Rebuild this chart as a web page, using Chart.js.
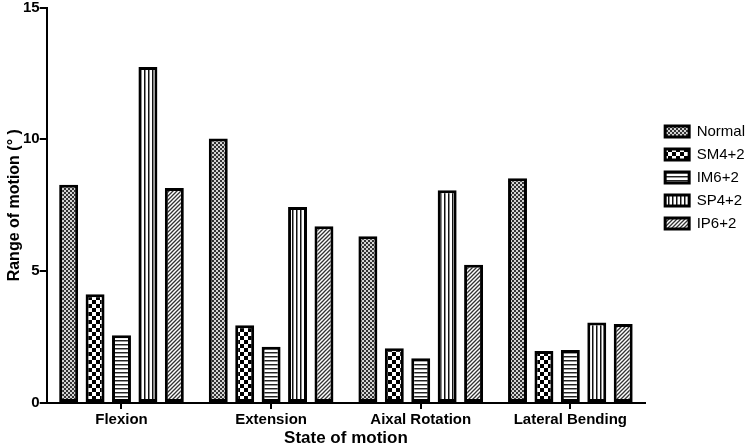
<!DOCTYPE html>
<html><head><meta charset="utf-8">
<script src="https://cdn.jsdelivr.net/npm/chart.js@4/dist/chart.umd.min.js"></script>
<style>html,body{margin:0;padding:0;background:#fff}#wrap{width:750px;height:447px}</style>
</head><body><div id="wrap"><canvas id="c" width="750" height="447"></canvas></div>
<script>
const categories = ['Flexion', 'Extension', 'Aixal Rotation', 'Lateral Bending'];
const seriesNames = ['Normal', 'SM4+2', 'IM6+2', 'SP4+2', 'IP6+2'];
const normal = [8.28, 10.03, 6.32, 8.52];
const sm42   = [4.12, 2.95, 2.08, 1.97];
const im62   = [2.57, 2.13, 1.70, 2.01];
const sp42   = [12.74, 7.43, 8.07, 3.05];
const ip62   = [8.15, 6.70, 5.24, 3.00];
const yTicks = [0, 5, 10, 15];
const seriesData = [normal, sm42, im62, sp42, ip62];

const FONT = "'Liberation Sans', Arial, sans-serif";
const canvas = document.getElementById('c');
const ctx = canvas.getContext('2d');

function tile(w, h, draw) {
  const c = document.createElement('canvas');
  c.width = w; c.height = h;
  const g = c.getContext('2d');
  g.fillStyle = '#fff'; g.fillRect(0, 0, w, h);
  draw(g);
  return ctx.createPattern(c, 'repeat');
}
const patterns = [
  tile(4, 4, g => { g.fillStyle = '#333'; g.fillRect(0,0,2,2); g.fillRect(2,2,2,2); g.fillStyle = '#d4d4d4'; g.fillRect(2,0,2,2); g.fillRect(0,2,2,2); }),
  tile(8, 8, g => { g.fillStyle = '#000'; g.fillRect(0,0,4,4); g.fillRect(4,4,4,4); }),
  tile(4, 4, g => { g.fillStyle = '#222'; g.fillRect(0,0,4,1); g.fillStyle = '#999'; g.fillRect(0,1,4,1); }),
  tile(4, 4, g => { g.fillStyle = '#111'; g.fillRect(0,0,1,4); g.fillStyle = '#888'; g.fillRect(1,0,1,4); }),
  tile(4, 4, g => { g.strokeStyle = '#333'; g.lineWidth = 1.3; g.beginPath(); g.moveTo(-1,5); g.lineTo(5,-1); g.moveTo(-1,1); g.lineTo(1,-1); g.moveTo(3,5); g.lineTo(5,3); g.stroke(); })
];

const legendShift = {
  id: 'legendShift',
  afterLayout(chart) {
    if (chart.legend) { chart.legend.left += 12; chart.legend.right += 12; }
  }
};

new Chart(ctx, {
  type: 'bar',
  data: {
    labels: categories,
    datasets: seriesNames.map((n, i) => ({
      label: n,
      data: seriesData[i],
      backgroundColor: patterns[i],
      borderColor: '#000',
      borderWidth: 3,
      borderSkipped: false,
      categoryPercentage: 0.883,
      barPercentage: 0.717
    }))
  },
  plugins: [legendShift],
  options: {
    responsive: false,
    animation: false,
    devicePixelRatio: 1,
    layout: { padding: { left: 0, right: 7, top: 0, bottom: 0 } },
    plugins: {
      tooltip: { enabled: false },
      legend: {
        position: 'right',
        align: 'start',
        title: { display: true, text: ' ', font: { size: 10 }, padding: { top: 104, bottom: 0 } },
        labels: {
          color: '#000',
          font: { family: FONT, size: 15 },
          boxWidth: 24,
          boxHeight: 11,
          padding: 8
        }
      }
    },
    scales: {
      x: {
        offset: true,
        grid: { display: true, drawOnChartArea: false, drawTicks: true, tickLength: 6, offset: false, color: '#000', lineWidth: 2 },
        border: { display: true, color: '#000', width: 2 },
        ticks: { color: '#000', font: { family: FONT, size: 15, weight: 'bold', lineHeight: 1 }, padding: 3, maxRotation: 0 },
        title: { display: true, text: 'State of motion', color: '#000', font: { family: FONT, size: 17, weight: 'bold', lineHeight: 1 }, padding: { top: 0, bottom: 0 } }
      },
      y: {
        min: 0, max: 15,
        afterBuildTicks: s => { s.ticks = yTicks.map(v => ({ value: v })); },
        grid: { display: true, drawOnChartArea: false, drawTicks: true, tickLength: 7, color: '#000', lineWidth: 2 },
        border: { display: true, color: '#000', width: 2 },
        ticks: { color: '#000', font: { family: FONT, size: 15, weight: 'bold', lineHeight: 1 }, padding: 0 },
        title: { display: true, text: 'Range of motion (° )', color: '#000', font: { family: FONT, size: 16, weight: 'bold', lineHeight: 1 }, padding: { top: 7, bottom: 0 } }
      }
    }
  }
});
</script>
</body></html>
